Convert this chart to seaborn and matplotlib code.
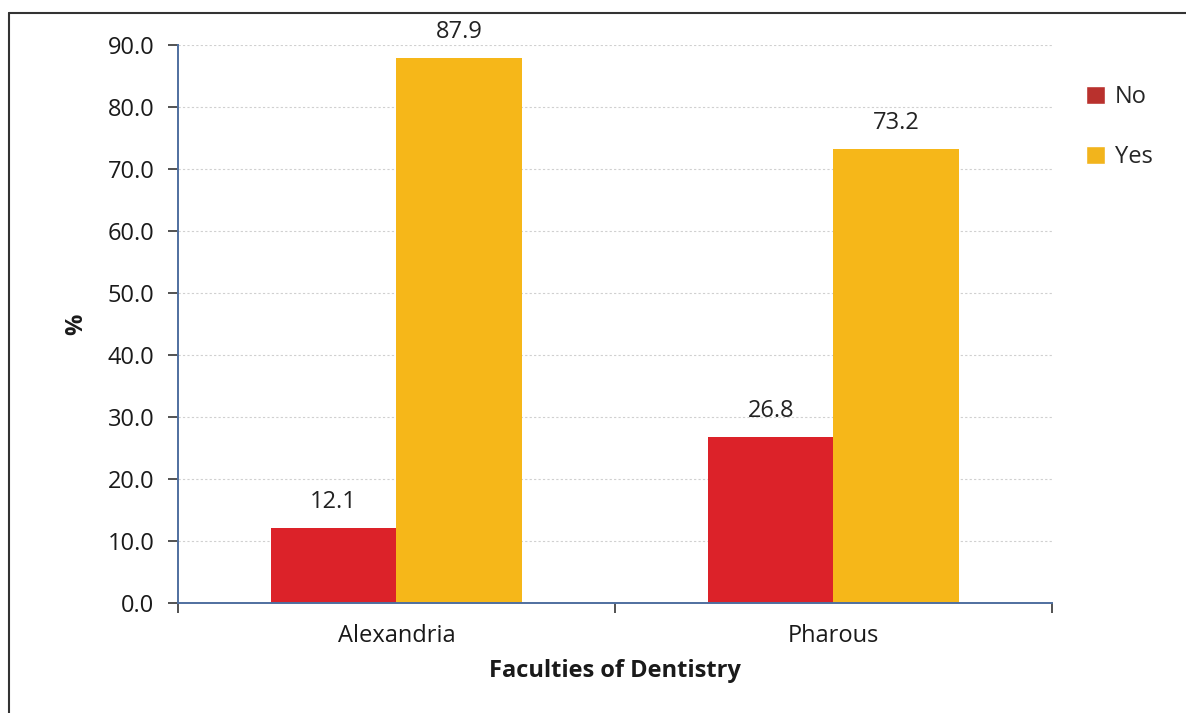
import pandas as pd
import matplotlib
matplotlib.use("Agg")
import matplotlib.pyplot as plt
import seaborn as sns
from matplotlib.lines import Line2D
from matplotlib.patches import Patch

# data
faculties = ["Alexandria", "Pharous"]
answers = ["No", "Yes"]
no_pct = [12.1, 26.8]
yes_pct = [87.9, 73.2]

df = pd.DataFrame({
    "Faculty": faculties * 2,
    "Answer": ["No"] * 2 + ["Yes"] * 2,
    "Pct": no_pct + yes_pct,
})

sns.set_theme(style="white")
plt.rcParams["font.family"] = ["Open Sans", "DejaVu Sans"]

colors = {"No": "#dc2229", "Yes": "#f6b719"}

fig = plt.figure(figsize=(11.86, 7.13), dpi=100)
ax = fig.add_axes([0.150, 0.154, 0.737, 0.783])

sns.barplot(data=df, x="Faculty", y="Pct", hue="Answer", hue_order=answers,
            palette=colors, width=0.574, gap=0, saturation=1, ax=ax,
            edgecolor="none", linewidth=0, legend=False)

# value labels
for cont in ax.containers:
    ax.bar_label(cont, fmt="%.1f", padding=10, fontsize=17, color="#222222")

ax.set_ylim(0, 90)
ax.set_xlim(-0.5, 1.5)
ax.set_yticks(range(0, 91, 10))
ax.set_yticklabels([f"{v:.1f}" for v in range(0, 91, 10)], fontsize=17, color="#1a1a1a")

# category boundary ticks, labels at centres
ax.set_xticks([-0.5, 0.5, 1.5])
ax.set_xticklabels([])
ax.set_xticks([0, 1], minor=True)
ax.set_xticklabels(faculties, minor=True, fontsize=17, color="#1a1a1a")
ax.tick_params(axis="x", which="minor", bottom=False, length=0, pad=15)
ax.tick_params(axis="x", which="major", bottom=True, length=7, width=1.3, color="#444444", direction="out")
ax.tick_params(axis="y", which="major", left=True, length=7, width=1.3, color="#444444", direction="out", pad=10)

ax.yaxis.grid(True, linestyle=(0, (2, 2)), color="#d0d0d0", linewidth=0.8)
ax.set_axisbelow(True)

for s in ["top", "right"]:
    ax.spines[s].set_visible(False)
for s in ["left", "bottom"]:
    ax.spines[s].set_color("#4f6f9f")
    ax.spines[s].set_linewidth(1.4)

ax.set_xlabel("Faculties of Dentistry", fontsize=17, fontweight="bold", labelpad=8, color="#1a1a1a")
ax.set_ylabel("%", fontsize=17, fontweight="bold", labelpad=14, color="#1a1a1a")

handles = [Patch(facecolor="#b9312d", label="No"), Patch(facecolor="#f2b41c", label="Yes")]
fig.legend(handles=handles, loc="upper left", bbox_to_anchor=(0.898, 0.91), frameon=False,
           fontsize=17, handlelength=0.8, handleheight=0.8, handletextpad=0.4,
           labelspacing=1.5)

# scanned frame lines (top and left)
fig.add_artist(Line2D([0.008, 1.0], [0.982, 0.982], transform=fig.transFigure, color="#333333", lw=1.5))
fig.add_artist(Line2D([0.008, 0.008], [0.0, 0.982], transform=fig.transFigure, color="#333333", lw=1.5))

fig.savefig("out.png", dpi=100)
